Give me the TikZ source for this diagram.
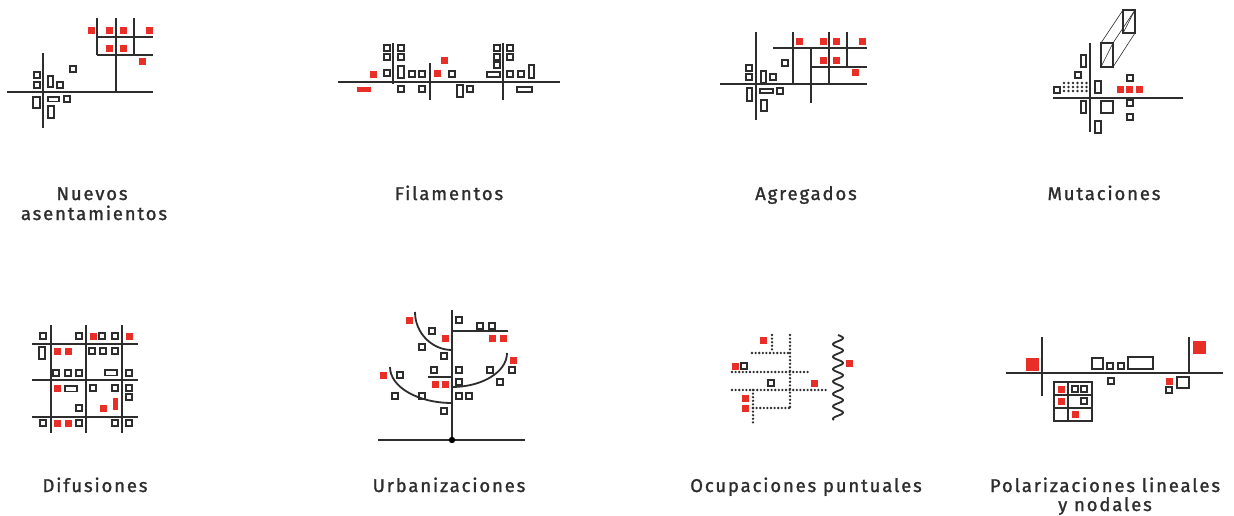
\documentclass[tikz,border=0pt]{standalone}
\usepackage{fontspec}
\newfontfamily\lab{Fira Sans}[LetterSpace=10, FakeBold=1.3]
\definecolor{myred}{RGB}{232,46,38}
\definecolor{ink}{RGB}{45,45,45}
\newcommand\bs[2]{\draw[sq] ({#1-3.1},{#2-3.1}) rectangle ++(6.2,6.2);}
\newcommand\rs[2]{\fill[myred] ({#1-3.5},{#2-3.5}) rectangle ++(7,7);}
\newcommand\br[4]{\draw[sq] (#1,#2) rectangle (#3,#4);}
\newcommand\rr[4]{\fill[myred] (#1,#2) rectangle (#3,#4);}
\begin{document}
\begin{tikzpicture}[x=1pt,y=-1pt,
  ln/.style={line width=1.8pt, draw=ink},
  thin/.style={line width=0.6pt, draw=ink},
  sq/.style={line width=1.3pt, draw=ink},
  dotline/.style={line width=2.6pt, draw=ink, line cap=round, dash pattern=on 0pt off 3.6pt},
  lbl/.style={font=\lab\fontsize{18.5}{21}\selectfont, text=ink, anchor=base, inner sep=0pt}]
\useasboundingbox[fill=white] (0,0) rectangle (1234,516);

% ---------- Panel 1: Nuevos asentamientos
\draw[ln] (7,92) -- (153,92);
\draw[ln] (43,53) -- (43,128);
\draw[ln] (116,18) -- (116,92);
\draw[ln] (97,18) -- (97,55);
\draw[ln] (134,18) -- (134,55);
\draw[ln] (97,37) -- (153,37);
\draw[ln] (97,55) -- (153,55);
\rs{91}{31}\rs{109}{31}\rs{123}{31}\rs{149}{31}\rs{109}{49}\rs{123}{49}\rs{142}{62}
\bs{73}{69}\bs{37}{75}\bs{37}{85}\br{48}{76}{53}{87}\bs{60}{85}
\br{33}{97}{40}{108}\br{48}{97}{59}{101.5}\bs{67}{99}\br{48}{106}{54}{118}
\node[lbl] (l1a) at (92,200) {Nuevos};
\node[lbl] (l1b) at (94,220) {asentamientos};

% ---------- Panel 2: Filamentos
\draw[ln] (338,82) -- (560,82);
\draw[ln] (393,43) -- (393,84);
\draw[ln] (430,63) -- (430,100);
\draw[ln] (503,43) -- (503,100);
\rr{357}{87}{371}{92.5}\rs{373}{75}\rs{437}{74}\rs{444}{61}
\bs{387}{48}\bs{387}{57}\bs{387}{73}
\bs{401}{48}\bs{401}{57}\br{398}{66}{404}{78}\bs{401}{89}
\bs{412}{74}\bs{422}{74}\bs{422}{89}\bs{452}{74}
\br{457}{85}{463}{97}\bs{470}{89}
\bs{497}{48}\bs{497}{57}\bs{497}{65}\bs{510}{48}\bs{510}{57}
\br{487}{72}{500}{77}\bs{510}{74}\bs{521}{74}\br{529}{65}{534}{78}\br{517}{87}{532}{92}
\node[lbl] (l2) at (449,200) {Filamentos};

% ---------- Panel 3: Agregados
\draw[ln] (720,84) -- (867,84);
\draw[ln] (756,32) -- (756,120);
\draw[ln] (793,32) -- (793,84);
\draw[ln] (811,48) -- (811,103);
\draw[ln] (829,32) -- (829,84);
\draw[ln] (847,32) -- (847,67);
\draw[ln] (773,48) -- (867,48);
\draw[ln] (811,67) -- (867,67);
\rs{799}{42}\rs{823}{42}\rs{836}{42}\rs{862}{42}\rs{823}{61}\rs{836}{61}\rs{855}{73}
\bs{785}{63}\bs{749}{68}\bs{749}{77}\br{761}{71}{766}{83}\bs{773}{77}
\br{747}{88}{752}{101}\br{760}{89}{773}{93}\bs{780}{91}\br{761}{100}{767}{111}
\node[lbl] (l3) at (806,200) {Agregados};

% ---------- Panel 4: Mutaciones
\draw[ln] (1053,98) -- (1183,98);
\draw[ln] (1090,43) -- (1090,132);
\draw[thin] (1101,43) -- (1123,10) (1113,43) -- (1135,10) (1113,67) -- (1135,33);
\draw[thin] (1101,67) -- (1113,43) (1123,33) -- (1135,10);
\br{1101}{43}{1113}{67}\br{1123}{10}{1135}{33}
\foreach \yy in {83,87,91}{\foreach \xx in {1064,1068.5,1073,1077.5,1082,1086.5}{\fill[ink] (\xx,\yy) circle (1.4);}}
\bs{1078}{75}\bs{1057}{90}\br{1081}{55}{1086}{67}\br{1095}{81}{1101}{93}
\br{1081}{101}{1086}{113}\br{1101}{101}{1113}{113}\br{1095}{121}{1101}{133}
\bs{1130}{78}\bs{1130}{103}\bs{1130}{117}
\rs{1120}{90}\rs{1129.5}{90}\rs{1139}{90}
\node[lbl] (l4) at (1104,200) {Mutaciones};

% ---------- Panel 5: Difusiones
\foreach \xx in {51,86,122}{\draw[ln] (\xx,325) -- (\xx,433);}
\foreach \yy in {344,380,417}{\draw[ln] (32,\yy) -- (138,\yy);}
\bs{43}{336}\bs{79}{336}\rs{93}{336}\bs{102}{336}\bs{115}{336}\rs{129}{336}
\br{39}{347}{45}{359}\rs{57}{351}\rs{68}{351}\bs{92}{351}\bs{103}{351}\bs{115}{351}
\bs{56}{373}\bs{68}{373}\bs{79}{373}\br{105}{370}{117}{375.5}\bs{129}{373}
\rs{57}{388}\br{65}{386}{77}{391.5}\bs{93}{388}\bs{115}{388}\bs{129}{388}\bs{129}{397}
\bs{79}{408}\rs{103}{408}\rr{113}{398}{117.5}{410}
\bs{43}{423}\rs{57}{423}\rs{68}{423}\bs{79}{423}\bs{115}{423}\bs{129}{423}
\node[lbl] (l5) at (95,492) {Difusiones};

% ---------- Panel 6: Urbanizaciones
\draw[ln] (378,440) -- (525,440);
\draw[ln] (452,310) -- (452,440);
\draw[ln] (452,331) -- (508,331);
\draw[ln] (428,377) -- (452,377);
\draw[ln] (415,312) .. controls (415,333) and (432,350) .. (452,350);
\draw[ln] (390,367) .. controls (390,387) and (418,403) .. (452,403);
\draw[ln] (507,353) .. controls (507,372) and (482,387) .. (452,387);
\fill[black] (452,440) circle (3.2);
\bs{459}{320}\bs{480}{326}\bs{492}{326}\bs{432}{331}\bs{422}{347}\bs{444}{356}
\bs{434}{370}\bs{459}{370}\bs{400}{375}\bs{459}{382}\bs{490}{370}\bs{512}{370}
\bs{500}{382}\bs{395}{396}\bs{422}{396}\bs{459}{396}\bs{469}{396}\bs{444}{411}
\rs{409}{320}\rs{445}{338}\rs{492}{338}\rs{503}{338}\rs{513}{360}\rs{383}{375}
\rs{435}{384}\rs{445}{384}
\node[lbl] (l6) at (449,492) {Urbanizaciones};

% ---------- Panel 7: Ocupaciones puntuales
\draw[dotline] (772,335) -- (772,353);
\draw[dotline] (752,353) -- (790,353);
\draw[dotline] (790,335) -- (790,410);
\draw[dotline] (732,372) -- (808,372);
\draw[dotline] (732,390) -- (827,390);
\draw[dotline] (753,390) -- (753,423);
\draw[dotline] (753,408) -- (790,408);
\draw[line width=1.8pt, draw=ink] plot[domain=0:85, samples=200, smooth] ({838+5*sin(29*\x)},{335+\x});
\rs{763}{340}\rs{735}{366}\rs{814}{383}\rs{745}{398}\rs{745}{408}\rs{849}{363}
\bs{744}{366}\bs{771}{383}
\node[lbl] (l7) at (806,492) {Ocupaciones puntuales};

% ---------- Panel 8: Polarizaciones lineales y nodales
\draw[ln] (1006,373) -- (1223,373);
\draw[ln] (1042,337) -- (1042,396);
\draw[ln] (1189,337) -- (1189,373);
\rr{1025.5}{357.5}{1038.5}{370.5}\rr{1192.5}{340.5}{1205.5}{353.5}
\br{1092}{358}{1103}{369}\bs{1110}{366}\bs{1121}{366}\br{1128}{357}{1153}{369}
\bs{1111}{381}\rs{1169}{381}\bs{1169}{390}\br{1177}{377}{1189}{388}
\draw[sq] (1054,382) rectangle (1092,421);
\draw[sq] (1068,382) -- (1068,421) (1054,395) -- (1092,395) (1054,408) -- (1092,408);
\rs{1061}{389}\bs{1075}{389}\bs{1084}{389}\rs{1061}{401}\bs{1084}{401}\rs{1075}{414}
\node[lbl] (l8a) at (1105,492) {Polarizaciones lineales};
\node[lbl] (l8b) at (1105,511) {y nodales};
\end{tikzpicture}
\end{document}
